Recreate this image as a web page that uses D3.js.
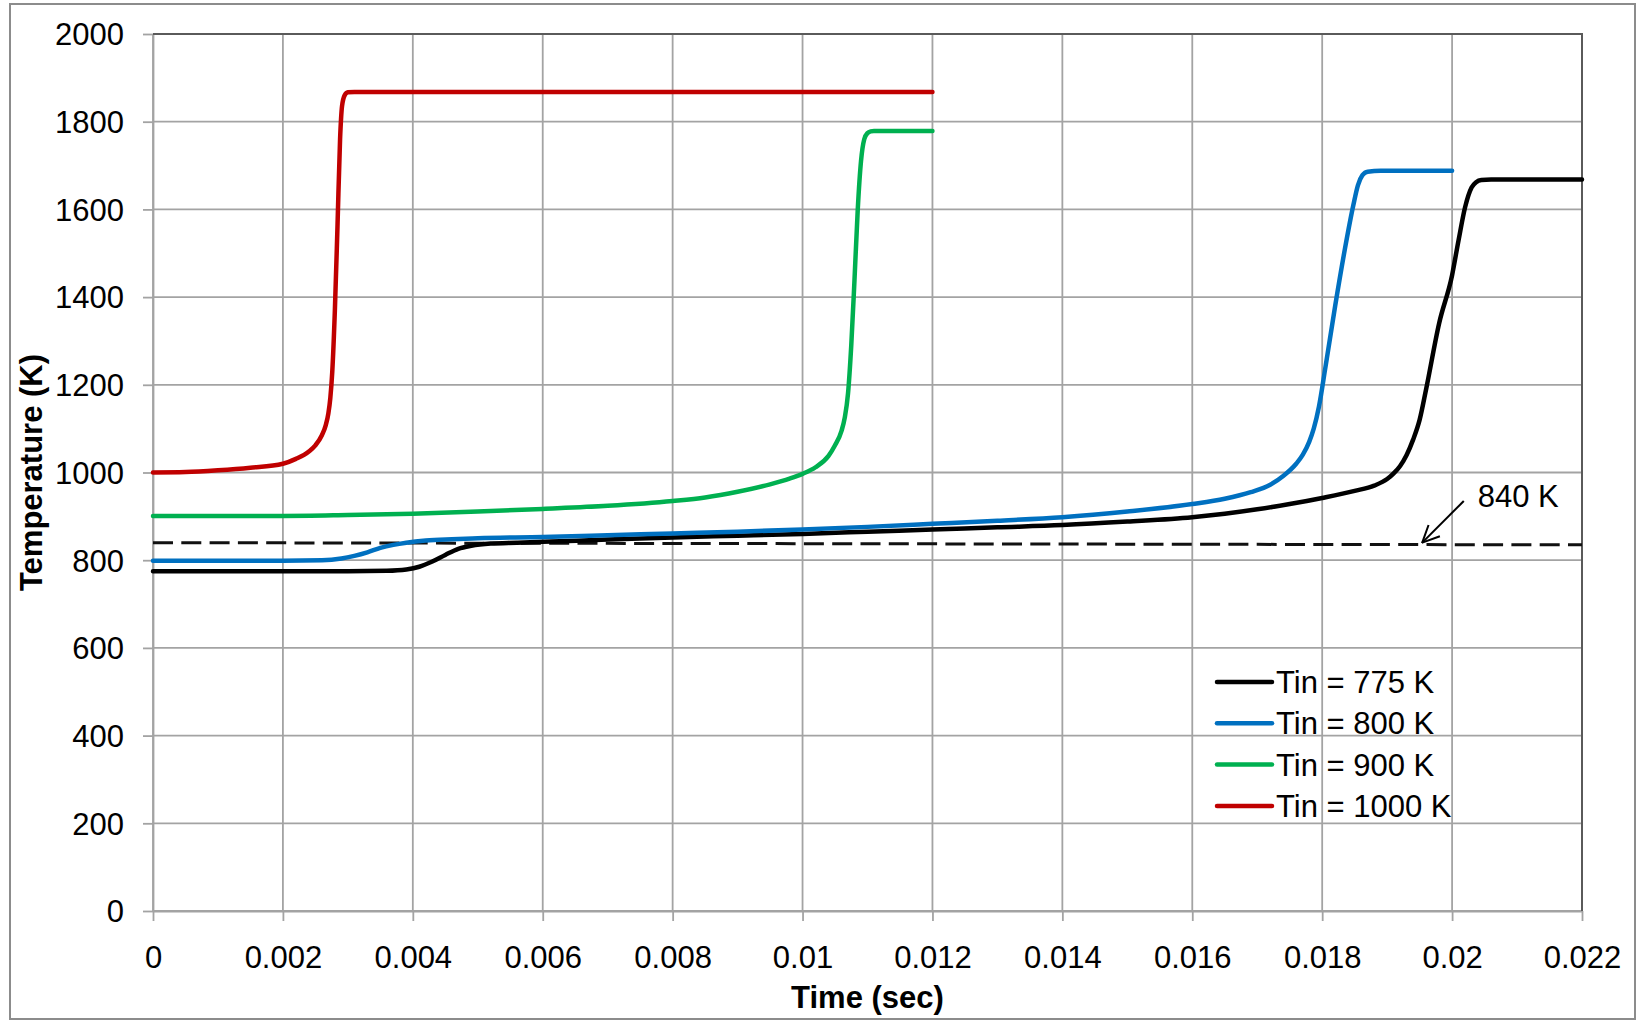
<!DOCTYPE html>
<html>
<head>
<meta charset="utf-8">
<title>Temperature vs Time</title>
<script src="https://cdn.jsdelivr.net/npm/d3@7/dist/d3.min.js"></script>
<style>
  html, body { margin: 0; padding: 0; background: #ffffff; }
  svg { display: block; }
  text { font-family: "Liberation Sans", Arial, sans-serif; fill: #000; }
</style>
</head>
<body>
<svg id="chart" width="1639" height="1021"></svg>
<script>
// Axis ticks
const xTicks = [0, 0.002, 0.004, 0.006, 0.008, 0.01, 0.012, 0.014, 0.016, 0.018, 0.02, 0.022];
const xTickLabels = ["0", "0.002", "0.004", "0.006", "0.008", "0.01", "0.012", "0.014", "0.016", "0.018", "0.02", "0.022"];
const yTicks = [0, 200, 400, 600, 800, 1000, 1200, 1400, 1600, 1800, 2000];
const yTickLabels = ["0", "200", "400", "600", "800", "1000", "1200", "1400", "1600", "1800", "2000"];

// Temperature histories [time (s), temperature (K)]
const tin775 = [
  [0, 775], [0.001, 775], [0.002, 775], [0.003, 775], [0.0036, 776], [0.0039, 779], [0.0041, 785],
  [0.0043, 797], [0.0045, 812], [0.0047, 826], [0.0049, 833], [0.0052, 838], [0.0056, 840],
  [0.006, 842], [0.007, 847], [0.008, 852], [0.009, 856], [0.010, 860], [0.011, 865], [0.012, 870],
  [0.013, 875], [0.014, 880], [0.015, 888], [0.016, 898], [0.0165, 906], [0.017, 916], [0.0175, 928],
  [0.018, 942], [0.0185, 958], [0.0188, 970], [0.019, 985], [0.0191, 998], [0.0192, 1015],
  [0.0193, 1040], [0.0194, 1075], [0.0195, 1120], [0.0196, 1190], [0.0198, 1340], [0.02, 1450],
  [0.0201, 1530], [0.0202, 1605], [0.0203, 1650], [0.02037, 1662], [0.02045, 1667], [0.0206, 1668],
  [0.022, 1668]
];
const tin800 = [
  [0, 799], [0.001, 799], [0.002, 799], [0.0026, 800], [0.0029, 804], [0.0031, 810], [0.0033, 818],
  [0.0035, 828], [0.0037, 835], [0.0039, 840], [0.0042, 845], [0.0046, 848], [0.005, 850],
  [0.006, 853], [0.007, 857], [0.008, 861], [0.009, 865], [0.010, 870], [0.011, 876], [0.012, 883],
  [0.013, 890], [0.014, 898], [0.015, 911], [0.016, 928], [0.0165, 940], [0.0169, 955], [0.0172, 972],
  [0.0174, 992], [0.0176, 1020], [0.0177, 1040], [0.0178, 1070], [0.01787, 1100], [0.01795, 1150],
  [0.01805, 1240], [0.0182, 1380], [0.01835, 1510], [0.01848, 1610], [0.01855, 1655], [0.01862, 1678],
  [0.0187, 1686], [0.0189, 1688], [0.02, 1688]
];
const tin900 = [
  [0, 901], [0.001, 901], [0.002, 901], [0.003, 903], [0.004, 906], [0.005, 911], [0.006, 917],
  [0.007, 924], [0.008, 935], [0.0085, 943], [0.009, 956], [0.0095, 973], [0.0098, 986], [0.01, 997],
  [0.0102, 1012], [0.0104, 1038], [0.0105, 1062], [0.0106, 1095], [0.01065, 1125], [0.0107, 1180],
  [0.01075, 1290], [0.0108, 1440], [0.01085, 1600], [0.0109, 1710], [0.01095, 1760], [0.011, 1774],
  [0.01105, 1778], [0.0111, 1779], [0.012, 1779]
];
const tin1000 = [
  [0, 1000], [0.0005, 1001], [0.001, 1005], [0.0015, 1011], [0.002, 1020], [0.0022, 1031],
  [0.0024, 1048], [0.0025, 1062], [0.0026, 1085], [0.00266, 1108], [0.0027, 1135], [0.00273, 1170],
  [0.00276, 1230], [0.0028, 1370], [0.00284, 1560], [0.00288, 1760], [0.00291, 1835], [0.00295, 1860],
  [0.003, 1867], [0.0031, 1868], [0.012, 1868]
];

// Reference level and its callout
const refLevel = [[0, 840], [0.022, 835]];
const refLabel = "840 K";
const refArrow = [[0.02018, 935], [0.01954, 840]];   // tail, tip

const seriesNames = ["Tin = 775 K", "Tin = 800 K", "Tin = 900 K", "Tin = 1000 K"];
const seriesColors = ["#000000", "#0070C0", "#00B050", "#C00000"];
const seriesData = [tin775, tin800, tin900, tin1000];

// Layout
const plot = { left: 153, top: 34, right: 1582, bottom: 911 };
const gridColor = "#a3a3a3";
const fontSize = 31;

const svg = d3.select("#chart");

// Chart-area frame
svg.append("rect")
  .attr("x", 10).attr("y", 4).attr("width", 1625).attr("height", 1015)
  .attr("fill", "#fff").attr("stroke", "#8c8c8c").attr("stroke-width", 2);

const x = d3.scaleLinear().domain([0, 0.022]).range([plot.left, plot.right]);
const y = d3.scaleLinear().domain([0, 2000]).range([plot.bottom, plot.top]);

// Grid
const grid = svg.append("g");
grid.selectAll("line.v").data(xTicks).join("line")
  .attr("x1", d => x(d)).attr("x2", d => x(d))
  .attr("y1", plot.top).attr("y2", plot.bottom)
  .attr("stroke", gridColor).attr("stroke-width", 1.8);
grid.selectAll("line.h").data(yTicks).join("line")
  .attr("x1", plot.left).attr("x2", plot.right)
  .attr("y1", d => y(d)).attr("y2", d => y(d))
  .attr("stroke", gridColor).attr("stroke-width", 1.8);

// Axes
const xAxis = d3.axisBottom(x).tickValues(xTicks)
  .tickFormat((d, i) => xTickLabels[i]).tickSize(10).tickSizeOuter(0).tickPadding(25);
const yAxis = d3.axisLeft(y).tickValues(yTicks)
  .tickFormat((d, i) => yTickLabels[i]).tickSize(10).tickSizeOuter(0).tickPadding(19);

const gx = svg.append("g").attr("transform", `translate(0,${plot.bottom})`).call(xAxis);
const gy = svg.append("g").attr("transform", `translate(${plot.left},0)`).call(yAxis);
[gx, gy].forEach(g => {
  g.select(".domain").attr("stroke", gridColor).attr("stroke-width", 1.8);
  g.selectAll(".tick line").attr("stroke", gridColor).attr("stroke-width", 1.8);
  g.selectAll(".tick text").attr("font-size", fontSize)
    .attr("font-family", '"Liberation Sans", Arial, sans-serif').attr("fill", "#000");
});
gy.selectAll(".tick text").attr("dy", "0.35em");

// Darker plot-area edges on top and right
svg.append("path")
  .attr("d", `M${plot.left},${plot.top}H${plot.right}V${plot.bottom}`)
  .attr("fill", "none").attr("stroke", "#5a5a5a").attr("stroke-width", 2);

// Axis titles
svg.append("text")
  .attr("x", (plot.left + plot.right) / 2).attr("y", 1008)
  .attr("text-anchor", "middle").attr("font-size", fontSize).attr("font-weight", "bold")
  .text("Time (sec)");
svg.append("text")
  .attr("transform", `translate(42,${(plot.top + plot.bottom) / 2}) rotate(-90)`)
  .attr("text-anchor", "middle").attr("font-size", fontSize).attr("font-weight", "bold")
  .text("Temperature (K)");

// Reference dashed line
const line = d3.line().x(d => x(d[0])).y(d => y(d[1]));
svg.append("path").datum(refLevel)
  .attr("d", line).attr("fill", "none")
  .attr("stroke", "#111").attr("stroke-width", 3).attr("stroke-dasharray", "20,8.3");

// Series
const curve = d3.line().x(d => x(d[0])).y(d => y(d[1])).curve(d3.curveMonotoneX);
seriesData.forEach((data, i) => {
  svg.append("path").datum(data)
    .attr("d", curve).attr("fill", "none")
    .attr("stroke", seriesColors[i]).attr("stroke-width", 4.5)
    .attr("stroke-linecap", "round").attr("stroke-linejoin", "round");
});

// Callout arrow with open head
const defs = svg.append("defs");
defs.append("marker")
  .attr("id", "openArrow").attr("viewBox", "0 0 20 20")
  .attr("refX", 19).attr("refY", 10).attr("markerWidth", 20).attr("markerHeight", 20)
  .attr("markerUnits", "userSpaceOnUse").attr("orient", "auto")
  .append("path").attr("d", "M2,2 L19,10 L2,18")
  .attr("fill", "none").attr("stroke", "#000").attr("stroke-width", 2);
svg.append("line")
  .attr("x1", x(refArrow[0][0])).attr("y1", y(refArrow[0][1]))
  .attr("x2", x(refArrow[1][0])).attr("y2", y(refArrow[1][1]))
  .attr("stroke", "#000").attr("stroke-width", 2).attr("marker-end", "url(#openArrow)");
svg.append("text")
  .attr("x", x(refArrow[0][0]) + 14).attr("y", y(refArrow[0][1]) + 6)
  .attr("font-size", fontSize).text(refLabel);

// Legend
const legend = svg.append("g").attr("transform", "translate(1217,682)");
seriesNames.forEach((name, i) => {
  const row = legend.append("g").attr("transform", `translate(0,${i * 41.3})`);
  row.append("line").attr("x1", 0).attr("x2", 55).attr("y1", 0).attr("y2", 0)
    .attr("stroke", seriesColors[i]).attr("stroke-width", 4.5).attr("stroke-linecap", "round");
  row.append("text").attr("x", 59).attr("y", 11).attr("font-size", fontSize).text(name);
});
</script>
</body>
</html>
